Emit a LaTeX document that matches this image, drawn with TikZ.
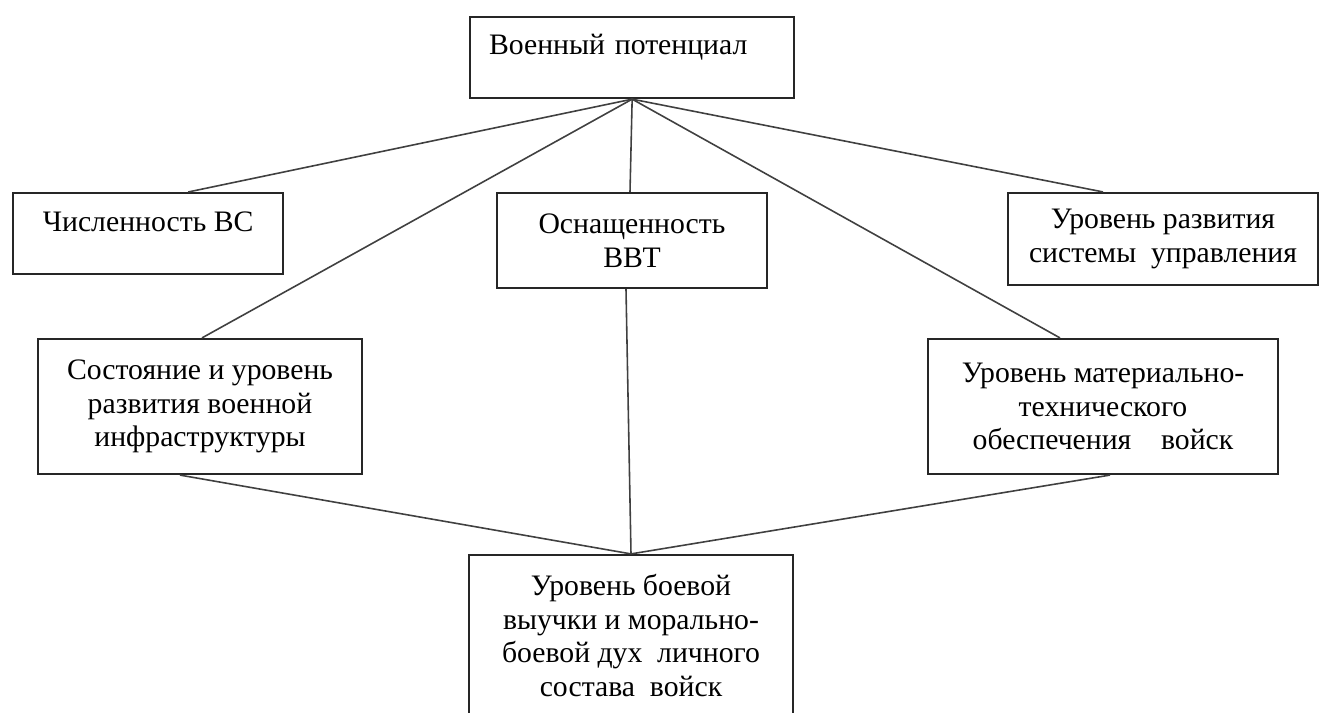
\documentclass[tikz,border=0pt]{standalone}
\usepackage{fontspec}
\setmainfont{Liberation Serif}

\begin{document}
\begin{tikzpicture}[x=0.01cm,y=-0.01cm,
	box/.style={draw=black!85,line width=0.6pt,fill=white,inner sep=0pt,font=\fontsize{8.45}{9.6}\selectfont},
	link/.style={draw=black!75,line width=0.45pt}]
	\useasboundingbox[fill=white] (0,0) rectangle (1321,712);
	% top
	\node[box,anchor=north west,inner xsep=0.19cm,text width=2.86cm,align=left,text height=0.37cm,text depth=0.44cm] (vp) at (469,16) {Военный потенциал};
	% middle row
	\node[box,anchor=north west,minimum width=2.70cm,text height=0.38cm,text depth=0.43cm] (chisl) at (12,192) {Численность ВС};
	\node[box,minimum width=2.70cm,minimum height=0.95cm,align=center] (osn) at (632,240.5) {Оснащенность\\ВВТ};
	\node[box,minimum width=3.10cm,minimum height=0.92cm,align=center] (upr) at (1163,239) {Уровень развития\\системы\ \ управления};
	\node[box,minimum width=3.24cm,minimum height=1.35cm,align=center] (infra) at (200,406.5) {Состояние и уровень\\развития военной\\инфраструктуры};
	\node[box,minimum width=3.50cm,minimum height=1.35cm,align=center] (mto) at (1103,406.5) {Уровень материально-\\технического\\обеспечения\ \ \ \ войск};
	% bottom
	\node[box,minimum width=3.24cm,minimum height=1.61cm,align=center] (duh) at (631,635.5) {Уровень боевой\\выучки и морально-\\боевой дух\ \ личного\\состава\ \ войск};
	% links
	\foreach \nd/\dx in {chisl/0.40cm,infra/0.02cm,osn/-0.02cm,mto/-0.43cm,upr/-0.60cm}
		\draw[link] (vp.south) -- ([xshift=\dx]\nd.north);
	\foreach \nd/\dx in {infra/-0.20cm,osn/-0.06cm,mto/0.07cm}
		\draw[link] ([xshift=\dx]\nd.south) -- (duh.north);
\end{tikzpicture}
\end{document}
